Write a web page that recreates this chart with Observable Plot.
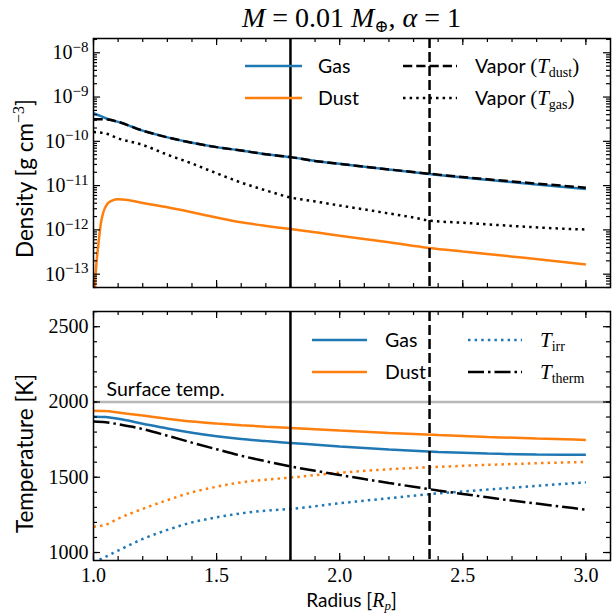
<!DOCTYPE html>
<html><head><meta charset="utf-8">
<script src="https://cdn.jsdelivr.net/npm/d3@7"></script>
<script src="https://cdn.jsdelivr.net/npm/@observablehq/plot@0.6"></script>
<style>
body{margin:0;background:#fff}
#wrap{position:relative;width:613px;height:613px;overflow:hidden;background:#fff}
#wrap svg{position:absolute;left:0}
</style></head><body><div id="wrap"></div>
<script>
// ---------- data ----------
const rGasDensity = [1.0, 1.03, 1.06, 1.1, 1.2, 1.3, 1.4, 1.5, 1.6, 1.7, 1.8, 1.9, 2.0, 2.2, 2.4, 2.6, 2.8, 3.0];
const gasDensity  = [4.3e-10, 3.7e-10, 3.15e-10, 2.75e-10, 1.74e-10, 1.23e-10, 9.3e-11, 7.4e-11, 6.2e-11, 5.1e-11, 4.4e-11, 3.6e-11, 3.1e-11, 2.3e-11, 1.74e-11, 1.35e-11, 1.06e-11, 8.4e-12];
const rVaporDust  = [1.0, 1.04, 1.06, 1.1, 1.2, 1.3, 1.4, 1.5, 1.6, 1.7, 1.8, 1.9, 2.0, 2.2, 2.4, 2.6, 2.8, 3.0];
const vaporTdust  = [3.15e-10, 3.15e-10, 3.1e-10, 2.75e-10, 1.74e-10, 1.23e-10, 9.3e-11, 7.4e-11, 6.2e-11, 5.1e-11, 4.4e-11, 3.6e-11, 3.1e-11, 2.32e-11, 1.77e-11, 1.39e-11, 1.11e-11, 9.0e-12];
const rVaporGas   = [1.0, 1.05, 1.1, 1.2, 1.3, 1.4, 1.5, 1.6, 1.7, 1.8, 1.9, 2.0, 2.1, 2.2, 2.3, 2.365, 2.5, 2.7, 2.9, 3.0];
const vaporTgas   = [1.62e-10, 1.5e-10, 1.17e-10, 8.3e-11, 5.0e-11, 3.15e-11, 1.9e-11, 1.17e-11, 7.8e-12, 5.4e-12, 4.4e-12, 3.55e-12, 2.9e-12, 2.35e-12, 1.9e-12, 1.62e-12, 1.45e-12, 1.23e-12, 1.07e-12, 1.02e-12];
const rDustDensity = [1.0, 1.01, 1.02, 1.03, 1.04, 1.055, 1.075, 1.1, 1.13, 1.2, 1.3, 1.4, 1.5, 1.6, 1.7, 1.8, 2.0, 2.2, 2.365, 2.5, 2.75, 3.0];
const dustDensity  = [1e-14, 1.26e-13, 4.8e-13, 1.41e-12, 2.5e-12, 3.8e-12, 4.57e-12, 4.9e-12, 4.8e-12, 4.07e-12, 3.24e-12, 2.5e-12, 1.9e-12, 1.48e-12, 1.23e-12, 1.05e-12, 7.4e-13, 5.25e-13, 3.9e-13, 3.24e-13, 2.34e-13, 1.66e-13];

const rTemp   = [1.0, 1.05, 1.1, 1.2, 1.3, 1.4, 1.5, 1.6, 1.7, 1.8, 2.0, 2.2, 2.4, 2.6, 2.8, 3.0];
const gasT    = [1902, 1900, 1888, 1856, 1824, 1796, 1773, 1754, 1740, 1728, 1704, 1684, 1668, 1657, 1651, 1650];
const dustT   = [1942, 1940, 1930, 1910, 1889, 1870, 1857, 1846, 1836, 1827, 1810, 1794, 1780, 1768, 1757, 1748];
const irrGasT = [935, 972, 1013, 1090, 1150, 1200, 1234, 1260, 1278, 1290, 1327, 1361, 1393, 1418, 1443, 1466];
const irrDustT = [1172, 1185, 1225, 1290, 1348, 1400, 1437, 1466, 1484, 1498, 1530, 1553, 1569, 1582, 1593, 1602];
const rTherm  = [1.0, 1.05, 1.1, 1.2, 1.3, 1.4, 1.5, 1.6, 1.7, 1.8, 1.9, 2.0, 2.1, 2.2, 2.3, 2.4, 2.5, 2.6, 2.7, 2.8, 2.9, 3.0];
const thermT  = [1871, 1866, 1852, 1820, 1776, 1730, 1686, 1643, 1606, 1572, 1543, 1515, 1488, 1462, 1437, 1412, 1389, 1367, 1345, 1325, 1305, 1285];

const rSolid = 1.8;
const rDashed = 2.365;
const surfaceTemp = 2000;
const annotations = [{x: 1.053, y: 2000, text: "Surface temp."}];

const xTickLabels = [1.0, 1.5, 2.0, 2.5, 3.0];
const densityTicks = [1e-13, 1e-12, 1e-11, 1e-10, 1e-9, 1e-8];
const tempTicks = [1000, 1500, 2000, 2500];

// ---------- styling ----------
const BLUE = "#1f77b4", ORANGE = "#ff7f0e";
const SERIF = "'Liberation Serif', 'DejaVu Serif', serif";
const SANS = "Lato, 'DejaVu Sans', sans-serif";
const W = 613, mL = 93, mR = 3;
const xDomain = [1, 3.1];
const lw = 2.5;
const DOT = "2.5,4.1", DASH = "9.25,4", DASHDOT = "16,4,2.5,4";
const pts = (rs, vs) => rs.map((r, i) => ({r, v: vs[i]}));
const lineOpts = (stroke, dash) => ({x: "r", y: "v", stroke, strokeWidth: lw, curve: "monotone-x", clip: true,
  strokeLinecap: "butt", strokeLinejoin: "miter", ...(dash ? {strokeDasharray: dash} : {})});

const xMinor = d3.range(10, 31).map(i => i / 10);
const densMinor = [];
for (let k = -14; k <= -8; k++) for (let m = 2; m <= 9; m++) { const v = m * Math.pow(10, k); if (v >= 5e-14 && v <= 2.1e-8) densMinor.push(v); }
const tempMinor = d3.range(1000, 2601, 100);

function tickMarks(xMaj, xMin, yMaj, yMin, innerW, innerH) {
  const L = 7, l = 4, o = {stroke: "black", strokeWidth: 1.2};
  return [
    Plot.tickX(xMaj, {x: d => d, insetTop: innerH - L, ...o}),
    Plot.tickX(xMaj, {x: d => d, insetBottom: innerH - L, ...o}),
    Plot.tickX(xMin, {x: d => d, insetTop: innerH - l, ...o}),
    Plot.tickX(xMin, {x: d => d, insetBottom: innerH - l, ...o}),
    Plot.tickY(yMaj, {y: d => d, insetRight: innerW - L, ...o}),
    Plot.tickY(yMaj, {y: d => d, insetLeft: innerW - L, ...o}),
    Plot.tickY(yMin, {y: d => d, insetRight: innerW - l, ...o}),
    Plot.tickY(yMin, {y: d => d, insetLeft: innerW - l, ...o})
  ];
}

const style = {fontFamily: SERIF, fontSize: "20px", color: "black", background: "transparent", overflow: "visible"};

// ---------- top panel ----------
const topH = 300, topMT = 38, topMB = 13;
const innerW = W - mL - mR;
const topPlot = Plot.plot({
  width: W, height: topH, marginLeft: mL, marginRight: mR, marginTop: topMT, marginBottom: topMB,
  style,
  x: {domain: xDomain, axis: null},
  y: {type: "log", domain: [5e-14, 2.1e-8]},
  marks: [
    Plot.line(pts(rGasDensity, gasDensity), lineOpts(BLUE)),
    Plot.line(pts(rDustDensity, dustDensity), lineOpts(ORANGE)),
    Plot.line(pts(rVaporDust, vaporTdust), lineOpts("black", DASH)),
    Plot.line(pts(rVaporGas, vaporTgas), lineOpts("black", DOT)),
    Plot.ruleX([rSolid], {x: d => d, stroke: "black", strokeWidth: 2.5}),
    Plot.ruleX([rDashed], {x: d => d, stroke: "black", strokeWidth: 2.5, strokeDasharray: "10,4"}),
    Plot.axisY({ticks: densityTicks, tickSize: 0, tickPadding: 5, label: null,
      tickFormat: d => "10^" + Math.round(Math.log10(d))}),
    ...tickMarks(xTickLabels, xMinor, densityTicks, densMinor, innerW, topH - topMT - topMB),
    Plot.frame({stroke: "black", strokeWidth: 1.5})
  ]
});
topPlot.style.top = "0px";

// superscript exponents
topPlot.querySelectorAll('g[aria-label="y-axis tick label"] text').forEach(t => {
  const parts = t.textContent.split("^");
  if (parts.length < 2) return;
  t.textContent = "10";
  const ts = document.createElementNS("http://www.w3.org/2000/svg", "tspan");
  ts.setAttribute("dy", "-0.5em");
  ts.setAttribute("font-size", "15");
  ts.textContent = parts[1].replace("-", "\u2212");
  t.appendChild(ts);
});

// ---------- bottom panel ----------
const botH = 313, botMT = 11, botMB = 53;
const bottomPlot = Plot.plot({
  width: W, height: botH, marginLeft: mL, marginRight: mR, marginTop: botMT, marginBottom: botMB,
  style,
  x: {domain: xDomain},
  y: {domain: [947, 2601]},
  marks: [
    Plot.ruleY([surfaceTemp], {y: d => d, stroke: "#b8b8b8", strokeWidth: 2.5}),
    Plot.text(annotations, {x: "x", y: "y", text: "text", textAnchor: "start", lineAnchor: "bottom", dy: -6, fontFamily: SANS, fontSize: 19.5}),
    Plot.line(pts(rTemp, gasT), lineOpts(BLUE)),
    Plot.line(pts(rTemp, dustT), lineOpts(ORANGE)),
    Plot.line(pts(rTemp, irrGasT), lineOpts(BLUE, DOT)),
    Plot.line(pts(rTemp, irrDustT), lineOpts(ORANGE, DOT)),
    Plot.line(pts(rTherm, thermT), lineOpts("black", DASHDOT)),
    Plot.ruleX([rSolid], {x: d => d, stroke: "black", strokeWidth: 2.5}),
    Plot.ruleX([rDashed], {x: d => d, stroke: "black", strokeWidth: 2.5, strokeDasharray: "10,4"}),
    Plot.axisY({ticks: tempTicks, tickSize: 0, tickPadding: 5, label: null, tickFormat: d => String(d)}),
    Plot.axisX({ticks: xTickLabels, tickSize: 0, tickPadding: 7, label: null, tickFormat: d3.format(".1f")}),
    ...tickMarks(xTickLabels, xMinor, tempTicks, tempMinor, innerW, botH - botMT - botMB),
    Plot.frame({stroke: "black", strokeWidth: 1.5})
  ]
});
bottomPlot.style.top = topH + "px";

const wrap = document.getElementById("wrap");
wrap.appendChild(topPlot);
wrap.appendChild(bottomPlot);

// ---------- overlay: title, axis labels, legends ----------
const it = (s, size) => `<tspan font-family="${SERIF}" font-style="italic"${size ? ` font-size="${size}"` : ""}>${s}</tspan>`;
const sub = (s, size = 14, d = 4) => `<tspan font-family="${SERIF}" font-size="${size}" dy="${d}">${s}</tspan>`;
const lgLine = (x1, x2, y, stroke, dash) => `<line x1="${x1}" x2="${x2}" y1="${y}" y2="${y}" stroke="${stroke}" stroke-width="2.5"${dash ? ` stroke-dasharray="${dash}"` : ""}/>`;
const lgText = (x, y, html) => `<text x="${x}" y="${y}" dy="0.35em" font-family="${SANS}" font-size="19.5">${html}</text>`;
const cx = mL + innerW / 2;
const LBL = 22.5;
const overlay = `
<svg width="613" height="613" style="top:0;pointer-events:none" xmlns="http://www.w3.org/2000/svg">
  <text x="${cx}" y="27" text-anchor="middle" font-family="${SERIF}" font-size="28">${it("M")} = 0.01 ${it("M")}<tspan font-size="17" dy="5">\u2295</tspan><tspan dy="-5">, </tspan>${it("\u03b1")} = 1</text>
  <text transform="translate(33,${topMT + (topH - topMT - topMB) / 2 + 16}) rotate(-90)" text-anchor="middle" font-family="${SANS}" font-size="${LBL}">Density [g cm<tspan font-family="${SERIF}" font-size="16" dy="-9">\u22123</tspan><tspan dy="9">]</tspan></text>
  <text transform="translate(33,${topH + botMT + (botH - botMT - botMB) / 2 + 18}) rotate(-90)" text-anchor="middle" font-family="${SANS}" font-size="${LBL}">Temperature [K]</text>
  <text x="${cx}" y="607" text-anchor="middle" font-family="${SANS}" font-size="19">Radius [${it("R", 20)}${sub(it("p", 13), 13, 3)}<tspan dy="-3">]</tspan></text>
  ${lgLine(245, 302, 66, BLUE)}${lgText(318, 66, "Gas")}
  ${lgLine(245, 302, 98, ORANGE)}${lgText(318, 98, "Dust")}
  ${lgLine(403, 457, 66, "black", DASH)}${lgText(475, 66, `Vapor <tspan font-family="${SERIF}" font-size="21">(</tspan>${it("T", 21)}${sub("dust")}<tspan font-family="${SERIF}" font-size="21" dy="-4">)</tspan>`)}
  ${lgLine(403, 457, 98, "black", DOT)}${lgText(475, 98, `Vapor <tspan font-family="${SERIF}" font-size="21">(</tspan>${it("T", 21)}${sub("gas")}<tspan font-family="${SERIF}" font-size="21" dy="-4">)</tspan>`)}
  ${lgLine(312, 367, 340, BLUE)}${lgText(385, 340, "Gas")}
  ${lgLine(312, 367, 372, ORANGE)}${lgText(385, 372, "Dust")}
  ${lgLine(468, 522, 340, BLUE, DOT)}${lgText(540, 340, `${it("T", 21)}${sub("irr")}`)}
  ${lgLine(468, 522, 372, "black", DASHDOT)}${lgText(540, 372, `${it("T", 21)}${sub("therm")}`)}
</svg>`;
wrap.insertAdjacentHTML("beforeend", overlay);
</script></body></html>
